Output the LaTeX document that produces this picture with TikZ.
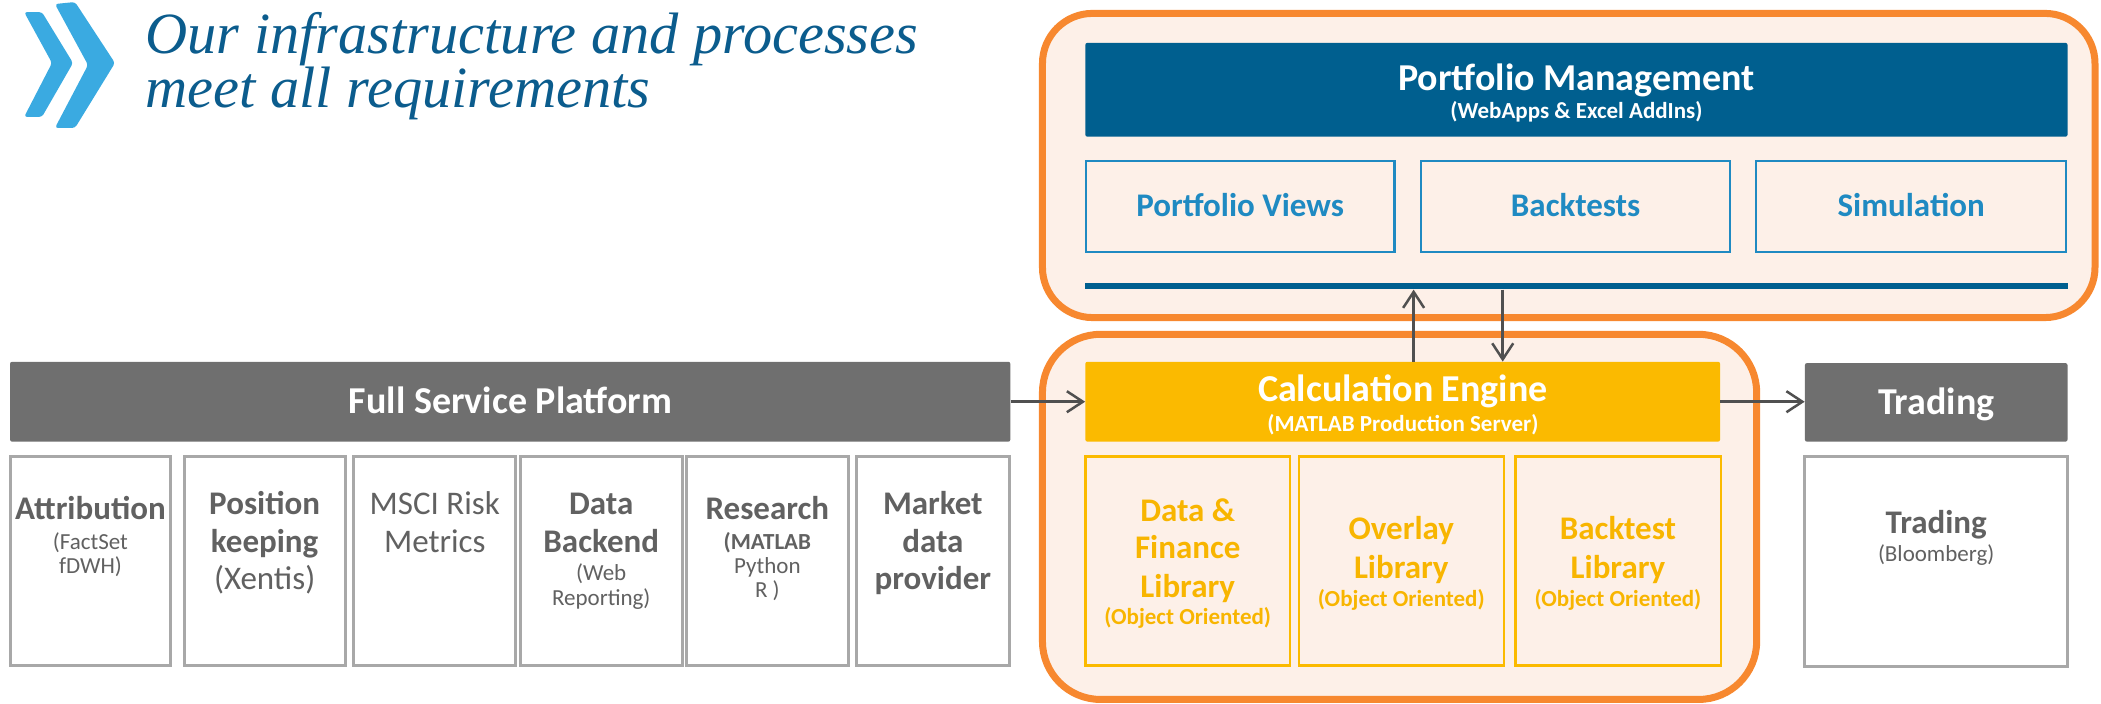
\documentclass[tikz,border=0pt]{standalone}
\usepackage{fontspec}
\setmainfont{Carlito}
\newfontfamily\headlinefont{Liberation Serif}
\usetikzlibrary{fit,arrows.meta}

\definecolor{chev}{HTML}{3AAAE1}
\definecolor{ttl}{HTML}{0B5C8D}
\definecolor{orng}{HTML}{F7882F}
\definecolor{orngfill}{HTML}{FDF0E8}
\definecolor{pmblue}{HTML}{005F8F}
\definecolor{lblue}{HTML}{1F8AC2}
\definecolor{yel}{HTML}{FBBA00}
\definecolor{yeltxt}{HTML}{F8B500}
\definecolor{gbar}{HTML}{6F6F6F}
\definecolor{gbox}{HTML}{A8A8A8}
\definecolor{gtxt}{HTML}{616161}
\definecolor{arrc}{HTML}{505050}

% one line of text, placed on its baseline
\newcommand\putline[5]{\node[#4,anchor=base,inner sep=0pt] (#1) at (#2,#3) {#5};}

\tikzset{
  group/.style={draw=orng, line width=7pt, fill=orngfill},
  bar/.style={inner sep=0pt, rounded corners=2pt},
  greybox/.style={inner sep=0pt, draw=gbox, line width=3pt, fill=white},
  bluebox/.style={inner sep=0pt, draw=lblue, line width=2.5pt},
  yelbox/.style={inner sep=0pt, draw=yel, line width=2.5pt},
  hdr/.style={font=\bfseries\fontsize{38}{40}\selectfont, text=white},
  hdrsub/.style={font=\bfseries\fontsize{23}{25}\selectfont, text=white},
  big/.style={font=\fontsize{33}{36}\selectfont},
  bigb/.style={font=\bfseries\fontsize{33}{36}\selectfont},
  small/.style={font=\fontsize{23}{25}\selectfont},
  smallb/.style={font=\bfseries\fontsize{23}{25}\selectfont},
  headline/.style={anchor=base west, inner sep=0pt, text=ttl, font=\headlinefont\itshape\fontsize{58.4}{58}\selectfont},
  arr/.style={draw=arrc, line width=2.5pt, -{Straight Barb[length=16pt,width=21pt]}},
}

\begin{document}
\begin{tikzpicture}[x=1.34pt, y=-1.34pt]
\useasboundingbox (0,0) rectangle (1568,525);

% chevrons and headline
\fill[chev, rounded corners=3pt] (18,9) -- (31.3,9) -- (54.5,47) -- (31.3,87.3) -- (18,87.3) -- (38.8,47) -- cycle;
\fill[chev, rounded corners=3pt] (41,3) -- (56,1.5) -- (85.8,47) -- (56,95.5) -- (41,95.5) -- (65.7,48.5) -- cycle;
\node[headline] (title1) at (108.5,39.8) {Our infrastructure and processes};
\node[headline] (title2) at (108.5,80) {meet all requirements};

% orange groups
\draw[group, rounded corners=50pt] (778,10) rectangle (1563.5,237);
\draw[group, rounded corners=58pt] (778,249.5) rectangle (1311,522);

% portfolio management
\node[bar, fill=pmblue, fit={(810,32) (1543,102)}] (pm) {};
\putline{pmt}{1176.5}{67.2}{hdr}{Portfolio Management}
\putline{pms}{1176.5}{88.8}{hdrsub}{(WebApps \& Excel AddIns)}
\node[bluebox, fit={(810.5,120) (1040.6,188)}] (pv) {};
\node[bluebox, fit={(1060.6,120) (1291.2,188)}] (bt) {};
\node[bluebox, fit={(1310.6,120) (1542,188)}] (sim) {};
\putline{pvt}{925.5}{161.7}{bigb,text=lblue}{Portfolio Views}
\putline{btt}{1175.9}{161.7}{bigb,text=lblue}{Backtests}
\putline{simt}{1426.3}{161.7}{bigb,text=lblue}{Simulation}
\node[inner sep=0pt, fill=pmblue, fit={(810,211.5) (1543,216)}] (bus) {};

% calculation engine
\node[bar, fill=yel, fit={(810,270) (1283.7,329.6)}] (calc) {};
\putline{calct}{1047}{299.8}{hdr}{Calculation Engine}
\putline{calcs}{1047}{321.7}{hdrsub}{(MATLAB Production Server)}
\node[yelbox, fit={(810,340.5) (962.8,496.8)}] (yb1) {};
\node[yelbox, fit={(969.4,340.5) (1122.3,496.8)}] (yb2) {};
\node[yelbox, fit={(1130.9,340.5) (1284.2,496.8)}] (yb3) {};
\putline{y1a}{886.4}{389}{bigb,text=yeltxt}{Data \&}
\putline{y1b}{886.4}{417}{bigb,text=yeltxt}{Finance}
\putline{y1c}{886.4}{446}{bigb,text=yeltxt}{Library}
\putline{y1d}{886.4}{466}{smallb,text=yeltxt}{(Object Oriented)}
\putline{y2a}{1045.8}{403}{bigb,text=yeltxt}{Overlay}
\putline{y2b}{1045.8}{432}{bigb,text=yeltxt}{Library}
\putline{y2c}{1045.8}{453}{smallb,text=yeltxt}{(Object Oriented)}
\putline{y3a}{1207.5}{403}{bigb,text=yeltxt}{Backtest}
\putline{y3b}{1207.5}{432}{bigb,text=yeltxt}{Library}
\putline{y3c}{1207.5}{453}{smallb,text=yeltxt}{(Object Oriented)}

% full service platform
\node[bar, fill=gbar, fit={(7.5,270) (754,329.6)}] (fsp) {};
\putline{fspt}{381}{308.5}{hdr}{Full Service Platform}
\node[greybox, fit={(7.5,340.5) (127.5,496.5)}] (lb1) {};
\node[greybox, fit={(137.5,340.5) (257.5,496.5)}] (lb2) {};
\node[greybox, fit={(264,340.5) (385,496.5)}] (lb3) {};
\node[greybox, fit={(388.4,340.5) (509,496.5)}] (lb4) {};
\node[greybox, fit={(512.4,340.5) (633,496.5)}] (lb5) {};
\node[greybox, fit={(639,340.5) (753.5,496.5)}] (lb6) {};
\putline{l1a}{67.5}{388}{bigb,text=gtxt}{Attribution}
\putline{l1b}{67.5}{410}{small,text=gtxt}{(FactSet}
\putline{l1c}{67.5}{428}{small,text=gtxt}{fDWH)}
\putline{l2a}{197.5}{384}{bigb,text=gtxt}{Position}
\putline{l2b}{197.5}{412}{bigb,text=gtxt}{keeping}
\putline{l2c}{197.5}{440}{big,text=gtxt}{(Xentis)}
\putline{l3a}{324.5}{384}{big,text=gtxt}{MSCI Risk}
\putline{l3b}{324.5}{412}{big,text=gtxt}{Metrics}
\putline{l4a}{448.7}{384}{bigb,text=gtxt}{Data}
\putline{l4b}{448.7}{412}{bigb,text=gtxt}{Backend}
\putline{l4c}{448.7}{433.5}{small,text=gtxt}{(Web}
\putline{l4d}{448.7}{452}{small,text=gtxt}{Reporting)}
\putline{l5a}{572.7}{388}{bigb,text=gtxt}{Research}
\putline{l5b}{572.7}{410}{smallb,text=gtxt}{(MATLAB}
\putline{l5c}{572.7}{428}{small,text=gtxt}{Python}
\putline{l5d}{572.7}{446}{small,text=gtxt}{R )}
\putline{l6a}{696.2}{384}{bigb,text=gtxt}{Market}
\putline{l6b}{696.2}{412}{bigb,text=gtxt}{data}
\putline{l6c}{696.2}{440}{bigb,text=gtxt}{provider}

% trading
\node[bar, fill=gbar, fit={(1347,271) (1543,329.6)}] (trad) {};
\putline{tradt}{1445}{309.5}{hdr}{Trading}
\node[greybox, fit={(1347,341) (1543,497.6)}] (tbox) {};
\putline{tb1}{1445}{398}{bigb,text=gtxt}{Trading}
\putline{tb2}{1445}{419}{small,text=gtxt}{(Bloomberg)}

% connectors
\coordinate (upx) at (1055,0);
\coordinate (downx) at (1121.5,0);
\draw[arr] (fsp.east) -- (calc.west);
\draw[arr] (calc.east) -- (calc.east -| trad.west);
\draw[arr] (upx |- calc.north) -- (upx |- bus.south);
\draw[arr] (downx |- bus.south) -- (downx |- calc.north);
\end{tikzpicture}
\end{document}
